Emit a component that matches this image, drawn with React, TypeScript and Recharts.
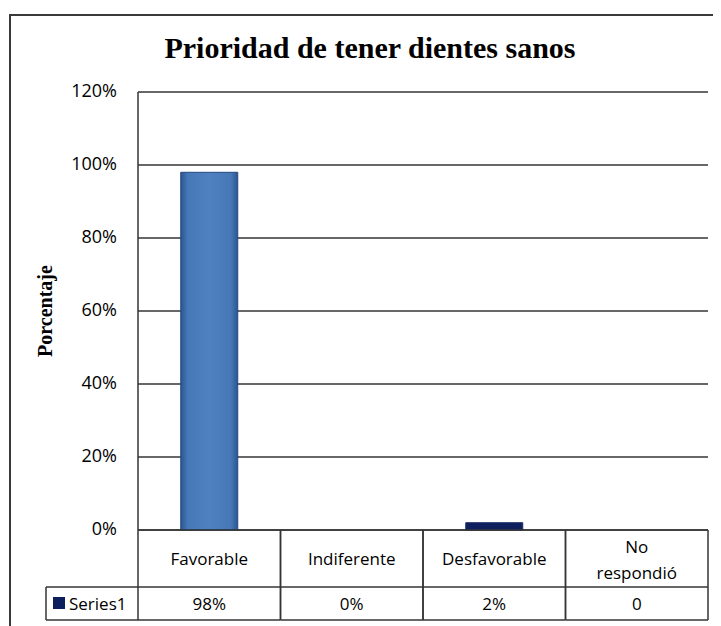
import { Bar, BarChart, CartesianGrid, Cell, Customized, XAxis, YAxis } from "recharts";

const CATEGORIES = ["Favorable", "Indiferente", "Desfavorable", "No respondió"];
const VALUES = [98, 0, 2, 0];
const VALUE_LABELS = ["98%", "0%", "2%", "0"];
const Y_TICKS = [0, 20, 40, 60, 80, 100, 120];
const SERIES_NAME = "Series1";
const TITLE = "Prioridad de tener dientes sanos";
const Y_TITLE = "Porcentaje";

const NAVY = "#0d1f5c";
const BAR_FILLS = ["url(#favGrad)", NAVY, NAVY, NAVY];
const BAR_STROKES = ["#24487f", "#1c2d6a", "#1c2d6a", "#1c2d6a"];
const LINE = "#353535";
const TEXT = "#000";
const SANS = "'Open Sans', sans-serif";
const SERIF = "'Liberation Serif', 'Times New Roman', serif";

const W = 713;
const H = 618;
const MARGIN = { top: 84, right: 13, bottom: 0, left: 0 };
const Y_AXIS_W = 130;
const X_AXIS_H = 96;
const BAND = (W - MARGIN.right - Y_AXIS_W) / CATEGORIES.length;
const ROW1 = 57;
const ROW2 = 33;
const LEGEND_W = 92;

const data = CATEGORIES.map((name, i) => ({ name, value: VALUES[i] }));

function YTick({ x, y, payload }: any) {
  return (
    <text x={x - 21} y={y - 2} textAnchor="end" dominantBaseline="central" fontFamily={SANS} fontSize={18} fill={TEXT}>
      {`${payload.value}%`}
    </text>
  );
}

function TableTick({ x, y, payload }: any) {
  const i = CATEGORIES.indexOf(payload.value);
  const left = x - BAND / 2;
  const right = x + BAND / 2;
  const bottom = y + ROW1 + ROW2;
  const words: string[] = String(payload.value).split(" ");
  const lineProps = { stroke: LINE, strokeWidth: 1.5 };
  return (
    <g>
      <line x1={left} y1={y} x2={left} y2={bottom} {...lineProps} />
      <line x1={right} y1={y} x2={right} y2={bottom} {...lineProps} />
      <line x1={left} y1={y + ROW1} x2={right} y2={y + ROW1} {...lineProps} />
      <line x1={left} y1={bottom} x2={right} y2={bottom} {...lineProps} />
      {words.length === 1 ? (
        <text x={x} y={y + 28} textAnchor="middle" dominantBaseline="central" fontFamily={SANS} fontSize={17} fill={TEXT}>
          {words[0]}
        </text>
      ) : (
        words.map((w, k) => (
          <text key={k} x={x} y={y + 16 + k * 26} textAnchor="middle" dominantBaseline="central" fontFamily={SANS} fontSize={17} fill={TEXT}>
            {w}
          </text>
        ))
      )}
      <text x={x} y={y + ROW1 + 16} textAnchor="middle" dominantBaseline="central" fontFamily={SANS} fontSize={17} fill={TEXT}>
        {VALUE_LABELS[i]}
      </text>
      {i === 0 && (
        <g>
          <line x1={left - LEGEND_W} y1={y + ROW1} x2={left} y2={y + ROW1} {...lineProps} />
          <line x1={left - LEGEND_W} y1={bottom} x2={left} y2={bottom} {...lineProps} />
          <line x1={left - LEGEND_W} y1={y + ROW1} x2={left - LEGEND_W} y2={bottom} {...lineProps} />
          <rect x={left - LEGEND_W + 7} y={y + ROW1 + 10} width={12} height={12} fill={NAVY} />
          <text x={left - LEGEND_W + 23} y={y + ROW1 + 16} dominantBaseline="central" fontFamily={SANS} fontSize={17} fill={TEXT}>
            {SERIES_NAME}
          </text>
        </g>
      )}
    </g>
  );
}

export default function App() {
  const plotMid = (MARGIN.top + (H - X_AXIS_H)) / 2;
  return (
    <div style={{ position: "relative", width: W, height: H, overflow: "hidden" }}>
      <div
        style={{
          position: "absolute",
          left: 0.5,
          top: 6,
          width: 800,
          height: 800,
          border: "2px solid #3a3a3a",
        }}
      />
      <BarChart width={W} height={H} data={data} margin={MARGIN} barCategoryGap="30%">
        <defs>
          <linearGradient id="favGrad" x1="0" y1="0" x2="1" y2="0">
            <stop offset="0%" stopColor="#2b5592" />
            <stop offset="12%" stopColor="#4677b7" />
            <stop offset="50%" stopColor="#4f80bf" />
            <stop offset="88%" stopColor="#4677b7" />
            <stop offset="100%" stopColor="#2b5592" />
          </linearGradient>
        </defs>
        <CartesianGrid vertical={false} stroke={LINE} strokeWidth={1.5} />
        <XAxis
          dataKey="name"
          height={X_AXIS_H}
          tickLine={false}
          tickSize={0}
          tickMargin={0}
          axisLine={{ stroke: LINE, strokeWidth: 1.5 }}
          tick={<TableTick />}
          interval={0}
        />
        <YAxis
          width={Y_AXIS_W}
          domain={[0, 120]}
          ticks={Y_TICKS}
          tickLine={false}
          tickSize={0}
          tickMargin={0}
          axisLine={{ stroke: LINE, strokeWidth: 1.5 }}
          tick={<YTick />}
        />
        <Bar dataKey="value" isAnimationActive={false}>
          {data.map((d, i) => (
            <Cell key={d.name} fill={BAR_FILLS[i]} stroke={BAR_STROKES[i]} strokeWidth={1} />
          ))}
        </Bar>
        <Customized
          component={() => (
            <g>
              <text x={362} y={50} textAnchor="middle" fontFamily={SERIF} fontWeight="bold" fontSize={30} fill={TEXT}>
                {TITLE}
              </text>
              <text
                x={44}
                y={plotMid}
                transform={`rotate(-90, 44, ${plotMid})`}
                textAnchor="middle"
                fontFamily={SERIF}
                fontWeight="bold"
                fontSize={20}
                fill={TEXT}
              >
                {Y_TITLE}
              </text>
            </g>
          )}
        />
      </BarChart>
    </div>
  );
}
